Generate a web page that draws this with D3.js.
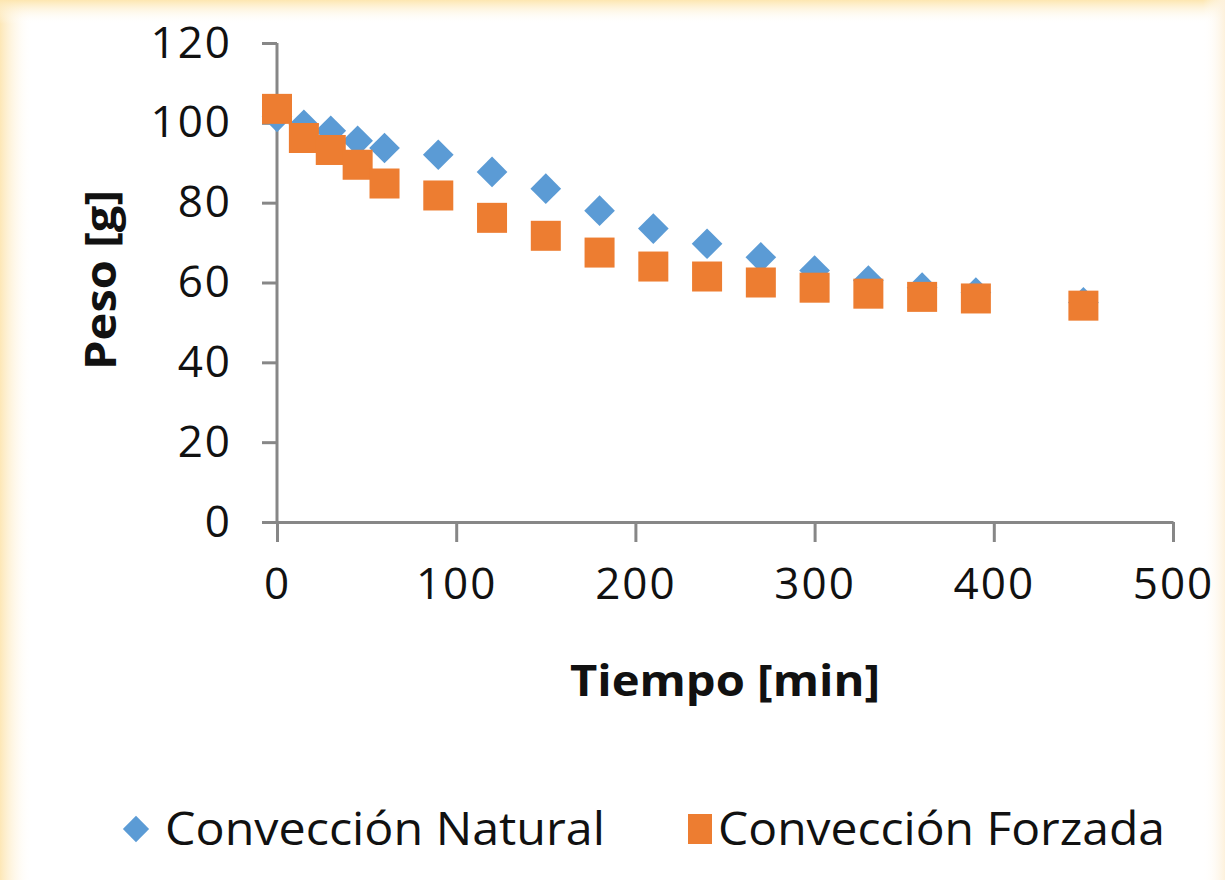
<!DOCTYPE html>
<html>
<head>
<meta charset="utf-8">
<script src="https://cdn.jsdelivr.net/npm/d3@7"></script>
<style>
  body { margin: 0; background: #fff; }
  svg text { font-family: "Open Sans", "Noto Sans", sans-serif; fill: #111; }
</style>
</head>
<body>
<div id="graph"></div>
<script>
// minutes
var tiempo = [0, 15, 30, 45, 60, 90, 120, 150, 180, 210, 240, 270, 300, 330, 360, 390, 450];
// weight [g]
var natural = [101.5, 99.5, 98, 95.5, 93.7, 92, 87.7, 83.5, 78, 73.5, 69.7, 66.3, 63, 60.5, 58.7, 57.5, 55];
var forzada = [103.5, 96.2, 93.2, 89.5, 84.8, 81.8, 76.2, 71.7, 67.5, 64, 61.5, 60, 58.7, 57.2, 56.4, 56, 54.2];
var xTicks = [0, 100, 200, 300, 400, 500];
var yTicks = [0, 20, 40, 60, 80, 100, 120];
var seriesNames = ['Convección Natural', 'Convección Forzada'];

var width = 1225, height = 880;
var blue = '#5b9bd5', orange = '#ed7d31', axisCol = '#878787';

var svg = d3.select('#graph')
    .append('svg')
        .attr('width', width)
        .attr('height', height);

// yellowish frame fading in from the edges
var defs = svg.append('defs');
function fade(id, x1, y1, x2, y2, col) {
    var g = defs.append('linearGradient').attr('id', id)
        .attr('x1', x1).attr('y1', y1).attr('x2', x2).attr('y2', y2);
    g.append('stop').attr('offset', '0%').attr('stop-color', col);
    g.append('stop').attr('offset', '100%').attr('stop-color', '#fff').attr('stop-opacity', 0);
}
fade('fl', 0, 0, 1, 0, '#fde7b6');
fade('ft', 0, 0, 0, 1, '#fde6b0');
fade('fr', 1, 0, 0, 0, '#fdf1dc');
svg.append('rect').attr('width', width).attr('height', height).attr('fill', '#fff');
svg.append('rect').attr('x', 0).attr('y', 0).attr('width', 32).attr('height', height).attr('fill', 'url(#fl)');
svg.append('rect').attr('x', 0).attr('y', 0).attr('width', width).attr('height', 24).attr('fill', 'url(#ft)');
svg.append('rect').attr('x', width - 22).attr('y', 0).attr('width', 22).attr('height', height).attr('fill', 'url(#fr)');

var x = d3.scaleLinear().domain([0, 500]).range([277, 1173]);
var y = d3.scaleLinear().domain([0, 120]).range([522, 43]);

var xAxis = svg.append('g')
    .attr('transform', 'translate(0,' + y(0) + ')')
    .call(d3.axisBottom(x).tickValues(xTicks).tickSize(20).tickPadding(26).tickSizeOuter(0));
var yAxis = svg.append('g')
    .attr('transform', 'translate(' + x(0) + ',0)')
    .call(d3.axisLeft(y).tickValues(yTicks).tickSize(15).tickPadding(30).tickSizeOuter(0));

[xAxis, yAxis].forEach(function(a) {
    a.select('.domain').attr('stroke', axisCol).attr('stroke-width', 3);
    a.selectAll('.tick line').attr('stroke', axisCol).attr('stroke-width', 3);
    a.selectAll('.tick text')
        .style('font-family', '"Open Sans", sans-serif')
        .style('font-size', '44px')
        .style('letter-spacing', '2px')
        .attr('fill', '#111');
});
yAxis.select('.domain').attr('d', 'M0,' + y(120) + 'V' + y(0));

// Excel draws the first series first, so squares sit on top of diamonds
var diamond = d3.symbol().type(d3.symbolDiamond2).size(600);
svg.append('g').selectAll('path')
    .data(tiempo)
    .join('path')
        .attr('d', diamond)
        .attr('transform', function(d, i) { return 'translate(' + x(d) + ',' + y(natural[i]) + ')'; })
        .attr('fill', blue);

svg.append('g').selectAll('rect')
    .data(tiempo)
    .join('rect')
        .attr('x', function(d) { return x(d) - 15; })
        .attr('y', function(d, i) { return y(forzada[i]) - 15; })
        .attr('width', 30)
        .attr('height', 30)
        .attr('fill', orange);

// axis titles
svg.append('text')
    .attr('x', 570).attr('y', 696)
    .attr('textLength', 310).attr('lengthAdjust', 'spacingAndGlyphs')
    .style('font-size', '43px').style('font-weight', 'bold')
    .text('Tiempo [min]');
svg.append('text')
    .attr('transform', 'translate(116,370) rotate(-90)')
    .attr('textLength', 180).attr('lengthAdjust', 'spacingAndGlyphs')
    .style('font-size', '43px').style('font-weight', 'bold')
    .text('Peso [g]');

// legend
var legY = 829;
svg.append('path')
    .attr('d', d3.symbol().type(d3.symbolDiamond2).size(440))
    .attr('transform', 'translate(136,' + legY + ')')
    .attr('fill', blue);
svg.append('text')
    .attr('x', 165).attr('y', legY + 16)
    .attr('textLength', 440).attr('lengthAdjust', 'spacingAndGlyphs')
    .style('font-size', '45px')
    .text(seriesNames[0]);
svg.append('rect')
    .attr('x', 688).attr('y', legY - 15).attr('width', 24).attr('height', 30)
    .attr('fill', orange);
svg.append('text')
    .attr('x', 718).attr('y', legY + 16)
    .attr('textLength', 447).attr('lengthAdjust', 'spacingAndGlyphs')
    .style('font-size', '45px')
    .text(seriesNames[1]);
</script>
</body>
</html>
